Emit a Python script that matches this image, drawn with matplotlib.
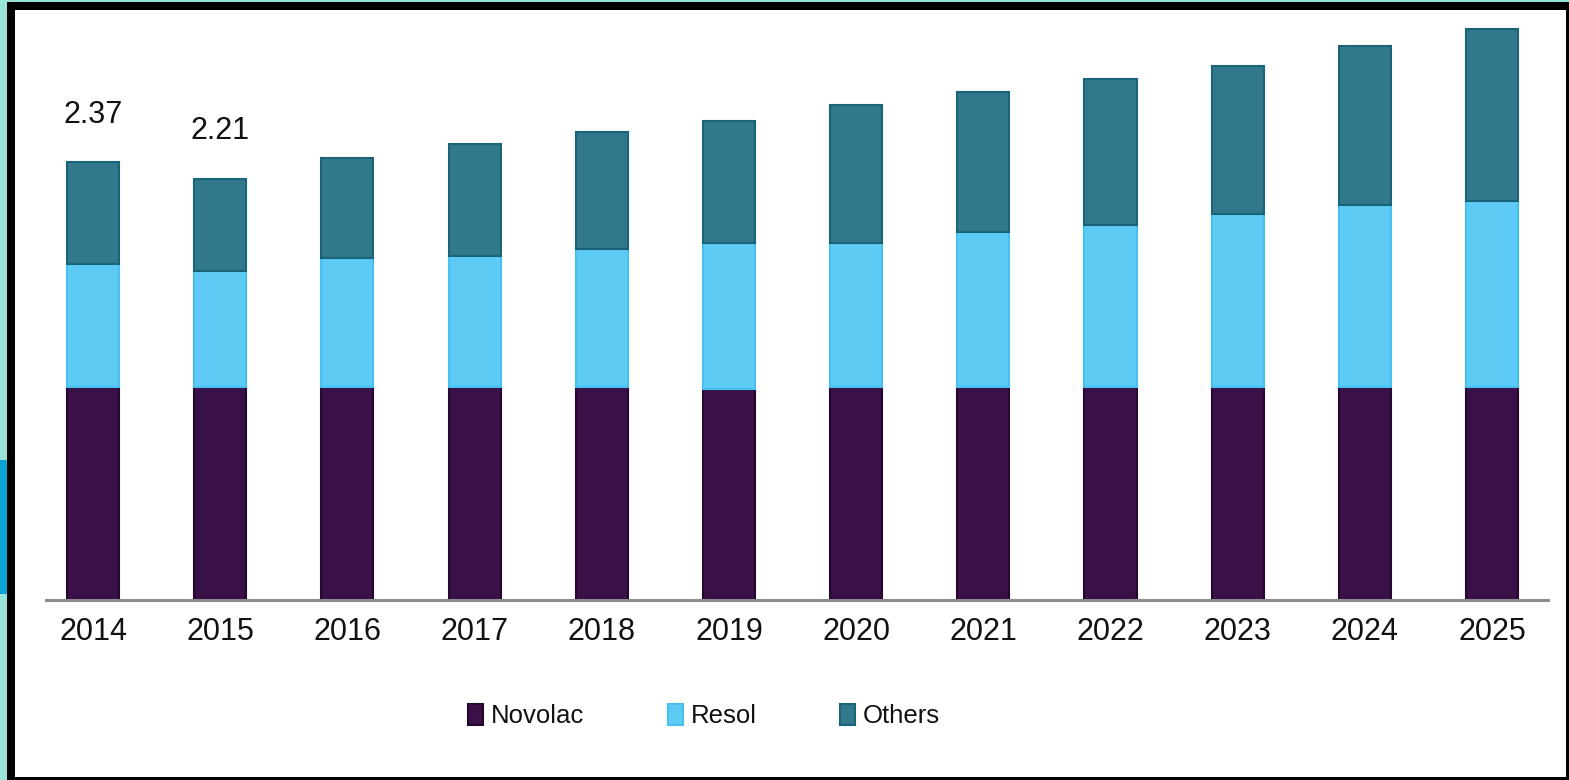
import matplotlib
matplotlib.use("Agg")
import matplotlib.pyplot as plt
from matplotlib.patches import Rectangle
import numpy as np

years = ["2014", "2015", "2016", "2017", "2018", "2019",
         "2020", "2021", "2022", "2023", "2024", "2025"]
novolac = [1.15, 1.15, 1.15, 1.15, 1.15, 1.14, 1.15, 1.15, 1.15, 1.15, 1.15, 1.15]
resol = [0.67, 0.63, 0.70, 0.71, 0.75, 0.79, 0.78, 0.84, 0.88, 0.94, 0.99, 1.01]
others = [0.55, 0.50, 0.54, 0.61, 0.63, 0.66, 0.75, 0.76, 0.79, 0.80, 0.86, 0.93]
value_labels = {"2014": "2.37", "2015": "2.21"}

W, H = 1569, 780
fig = plt.figure(figsize=(W / 100, H / 100), dpi=100)
fig.patch.set_facecolor("white")

# decorative frame (figure pixel coords)
def frect(x0, y0, x1, y1, color):
    fig.patches.append(Rectangle((x0 / W, 1 - y1 / H), (x1 - x0) / W, (y1 - y0) / H,
                                 transform=fig.transFigure, color=color, zorder=0, lw=0))

frect(0, 0, 7, 780, "#98e4d6")
frect(0, 0, 1569, 2, "#98e4d6")
frect(0, 460, 7, 594, "#0aa3d6")
frect(7, 2, 15, 780, "black")
frect(7, 2, 1569, 10, "black")
frect(1566, 2, 1569, 780, "black")
frect(7, 777, 1569, 780, "black")

# axes placement: x 46..1548 px, baseline y=600, top y=20
ax_left, ax_right, ax_base, ax_top = 46, 1548, 600, 20
ax = fig.add_axes([ax_left / W, 1 - ax_base / H, (ax_right - ax_left) / W, (ax_base - ax_top) / H])
ax.set_facecolor("none")

x = np.arange(len(years))
px_per_unit = 184.8
ax.set_ylim(0, (ax_base - ax_top) / px_per_unit)
ax.set_xlim(-0.37, 11.44)

bw = 0.41
nov = np.array(novolac)
res = np.array(resol)
oth = np.array(others)
ax.bar(x, nov, bw, color="#3a1048", edgecolor="#24082e", linewidth=1.5, label="Novolac", zorder=2)
ax.bar(x, res, bw, bottom=nov, color="#5ecbf5", edgecolor="#45c0f0", linewidth=1.5, label="Resol", zorder=2)
ax.bar(x, oth, bw, bottom=nov + res, color="#31788a", edgecolor="#1a6479", linewidth=1.5, label="Others", zorder=2)

totals = nov + res + oth
for i, y in enumerate(years):
    if y in value_labels:
        ax.annotate(value_labels[y], (x[i], totals[i]), xytext=(0, 34), textcoords="offset points",
                    ha="center", va="center", fontsize=22, family="Liberation Sans", color="#111111")

for s in ["top", "right", "left"]:
    ax.spines[s].set_visible(False)
ax.spines["bottom"].set_color("#8c8c8c")
ax.spines["bottom"].set_linewidth(2.2)
ax.spines["bottom"].set_zorder(3)
ax.set_yticks([])
ax.set_xticks(x)
ax.set_xticklabels(years, fontsize=22, family="Liberation Sans", color="#111111")
ax.tick_params(axis="x", length=0, pad=12)

handles, labels = ax.get_legend_handles_labels()
leg = fig.legend(handles, labels, loc="center", bbox_to_anchor=(704 / W, 1 - 716 / H),
                 ncol=3, frameon=False, handlelength=0.58, handleheight=0.93,
                 handletextpad=0.31, columnspacing=3.25, borderpad=0,
                 prop={"family": "Liberation Sans", "size": 18.5})
for t in leg.get_texts():
    t.set_color("#111111")

fig.savefig("out.png", dpi=100)
